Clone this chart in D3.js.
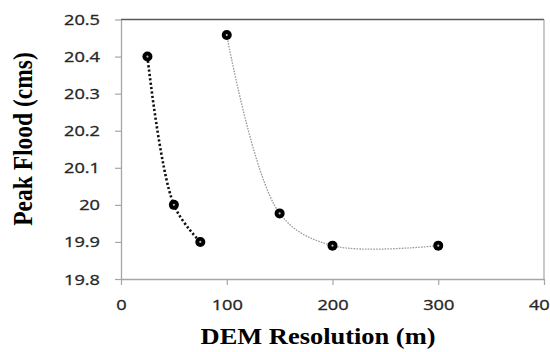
<!DOCTYPE html>
<html>
<head>
<meta charset="utf-8">
<script src="https://cdn.jsdelivr.net/npm/d3@7"></script>
<style>
  html, body { margin: 0; padding: 0; background: #fff; }
  svg { display: block; }
</style>
</head>
<body>
<script>
const width = 550
const height = 352
const margin = {top: 19.5, right: 6, bottom: 73, left: 121}

// fine DEM runs
const fineRes = [25, 50, 75]
const fineFlood = [20.4, 20.0, 19.9]

// coarse DEM runs
const coarseRes = [100, 150, 200, 300]
const coarseFlood = [20.458, 19.977, 19.89, 19.89]

const xTicks = [0, 100, 200, 300, 400]
const yTicks = [19.8, 19.9, 20, 20.1, 20.2, 20.3, 20.4, 20.5]

const xScale = d3.scaleLinear()
    .domain([0, 400])
    .range([margin.left, width - margin.right])

const yScale = d3.scaleLinear()
    .domain([19.8, 20.5])
    .range([height - margin.bottom, margin.top])

const svg = d3.select("body").append("svg")
    .attr("width", width)
    .attr("height", height)

const tickFont = "'Open Sans', 'DejaVu Sans', sans-serif"

// frame (top + right)
svg.append("line")
    .attr("x1", xScale(0)).attr("x2", xScale(400))
    .attr("y1", yScale(20.5)).attr("y2", yScale(20.5))
    .attr("stroke", "#595959").attr("stroke-width", 1.5)
svg.append("line")
    .attr("x1", xScale(400)).attr("x2", xScale(400))
    .attr("y1", yScale(20.5)).attr("y2", yScale(19.8))
    .attr("stroke", "#a6a6a6").attr("stroke-width", 1.2)

// y axis
svg.append("g")
    .attr("transform", `translate(${margin.left},0)`)
    .call(d3.axisLeft(yScale).tickValues(yTicks).tickFormat(d3.format("")).tickSize(6).tickSizeOuter(0))
    .call(g => g.select(".domain").attr("stroke", "#a6a6a6").attr("stroke-width", 1.3))
    .call(g => g.selectAll(".tick line").attr("stroke", "#a6a6a6").attr("stroke-width", 1.2))
    .call(g => g.selectAll(".tick text")
        .attr("x", 0).attr("dy", "0.36em")
        .attr("transform", "translate(-21,0) scale(1.3,1)")
        .attr("fill", "#262626")
        .attr("stroke", "#262626").attr("stroke-width", 0.3)
        .style("font", `14px ${tickFont}`))

// x axis
svg.append("g")
    .attr("transform", `translate(0,${height - margin.bottom})`)
    .call(d3.axisBottom(xScale).tickValues(xTicks).tickSize(6).tickSizeOuter(0))
    .call(g => g.select(".domain").attr("stroke", "#a6a6a6").attr("stroke-width", 1.3))
    .call(g => g.selectAll(".tick line").attr("stroke", "#a6a6a6").attr("stroke-width", 1.2))
    .call(g => g.selectAll(".tick text")
        .attr("y", 0).attr("dy", 0)
        .attr("transform", "translate(0,31) scale(1.3,1)")
        .attr("fill", "#262626")
        .attr("stroke", "#262626").attr("stroke-width", 0.3)
        .style("font", `14px ${tickFont}`))

const fine = fineRes.map((r, i) => ({r: r, q: fineFlood[i]}))
const coarse = coarseRes.map((r, i) => ({r: r, q: coarseFlood[i]}))

const line = d3.line()
    .x(d => xScale(d.r))
    .y(d => yScale(d.q))
    .curve(d3.curveCatmullRom.alpha(0.5))

svg.append("path")
    .attr("d", line(coarse))
    .attr("fill", "none")
    .attr("stroke", "#9a9a9a")
    .attr("stroke-width", 1.3)
    .attr("stroke-dasharray", "1.6,1.2")

svg.append("path")
    .attr("d", line(fine))
    .attr("fill", "none")
    .attr("stroke", "#111")
    .attr("stroke-width", 2.6)
    .attr("stroke-dasharray", "2.2,2.2")

const pts = fine.concat(coarse)

svg.append("g").selectAll("circle")
    .data(pts).join("circle")
    .attr("cx", d => xScale(d.r))
    .attr("cy", d => yScale(d.q))
    .attr("r", 5)
    .attr("fill", "#000")

svg.append("g").selectAll("circle")
    .data(pts).join("circle")
    .attr("cx", d => xScale(d.r))
    .attr("cy", d => yScale(d.q))
    .attr("r", 1.1)
    .attr("fill", "#bbb")

// axis titles
svg.append("text")
    .attr("transform", `translate(318,344) scale(1.15,1)`)
    .attr("text-anchor", "middle")
    .style("font", "bold 23px 'Liberation Serif', 'Times New Roman', serif")
    .attr("fill", "#000")
    .text("DEM Resolution (m)")

svg.append("text")
    .attr("transform", `translate(32,139) rotate(-90) scale(1.12,1.3)`)
    .attr("text-anchor", "middle")
    .style("font", "bold 21px 'Liberation Serif', 'Times New Roman', serif")
    .attr("fill", "#000")
    .text("Peak Flood (cms)")
</script>
</body>
</html>
